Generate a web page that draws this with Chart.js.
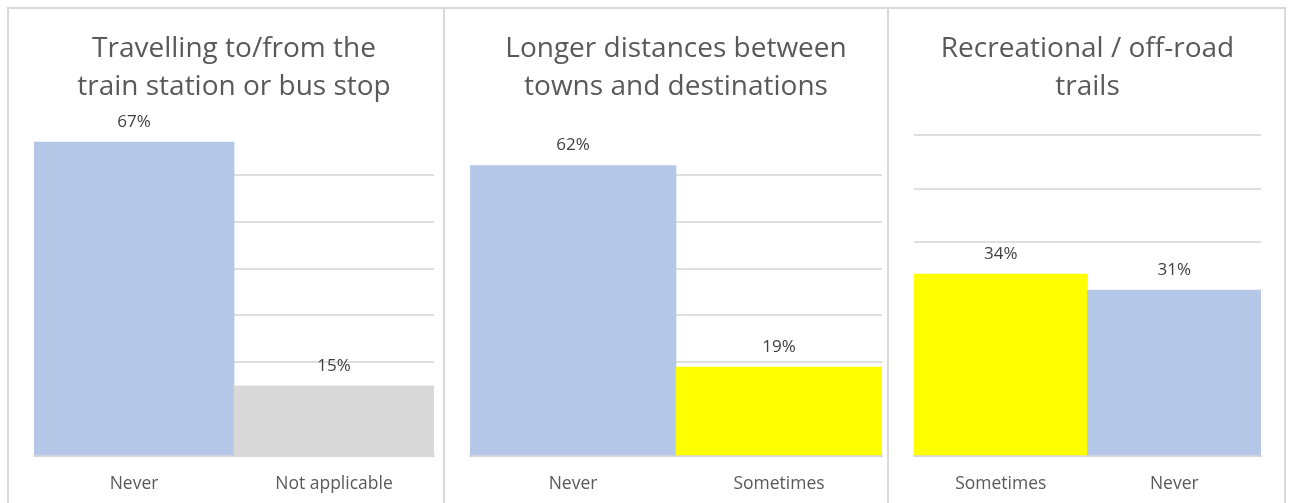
<!DOCTYPE html>
<html>
<head>
<meta charset="utf-8">
<script src="https://cdn.jsdelivr.net/npm/chart.js@4/dist/chart.umd.min.js"></script>
<style>
  body { margin: 0; background: #fff; overflow: hidden; }
  .panel {
    position: absolute;
    top: 7px;
    height: 530px;
    border: 2px solid #d9d9d9;
    background: #fff;
  }
  .panel canvas { display: block; }
</style>
</head>
<body>
<div class="panel" id="p1" style="left:7px;width:434px;"><canvas id="c1" width="434" height="515"></canvas></div>
<div class="panel" id="p2" style="left:443px;width:442px;"><canvas id="c2" width="442" height="515"></canvas></div>
<div class="panel" id="p3" style="left:887px;width:395px;"><canvas id="c3" width="395" height="515"></canvas></div>
<script>
// survey answers, share of respondents (%)
const titles1 = ['Travelling to/from the', 'train station or bus stop'];
const cats1 = ['Never', 'Not applicable'];
const vals1 = [67, 15];

const titles2 = ['Longer distances between', 'towns and destinations'];
const cats2 = ['Never', 'Sometimes'];
const vals2 = [62, 19];

const titles3 = ['Recreational / off-road', 'trails'];
const cats3 = ['Sometimes', 'Never'];
const vals3 = [34, 31];

// axis tops and the highest gridline shown
const axisMax = [70, 70, 60];
const gridTop = 60;

const BLUE = '#b4c7e7', GREY = '#d9d9d9', YELLOW = '#ffff00';
const colors1 = [BLUE, GREY];
const colors2 = [BLUE, YELLOW];
const colors3 = [YELLOW, BLUE];

const FONT = '"Open Sans", Lato, sans-serif';

// value labels above each bar
const valueLabels = {
  id: 'valueLabels',
  afterDatasetsDraw(chart) {
    const ctx = chart.ctx;
    const meta = chart.getDatasetMeta(0);
    const data = chart.data.datasets[0].data;
    ctx.save();
    ctx.font = '17px ' + FONT;
    ctx.fillStyle = '#404040';
    ctx.textAlign = 'center';
    ctx.textBaseline = 'middle';
    meta.data.forEach((bar, i) => {
      ctx.fillText(data[i] + '%', bar.x, bar.y - 20);
    });
    ctx.restore();
  }
};

function drawPanel(id, title, cats, vals, colors, max, pad) {
  return new Chart(document.getElementById(id), {
    type: 'bar',
    data: {
      labels: cats,
      datasets: [{
        data: vals,
        backgroundColor: colors,
        borderWidth: 0,
        barPercentage: 1,
        categoryPercentage: 1
      }]
    },
    options: {
      responsive: false,
      animation: false,
      layout: { padding: pad },
      plugins: {
        legend: { display: false },
        tooltip: { enabled: false },
        title: {
          display: true,
          text: title,
          fullSize: false,
          color: '#595959',
          font: { family: FONT, size: 28, weight: 'normal', lineHeight: 38 / 28 },
          padding: { top: 21, bottom: pad.titleGap }
        }
      },
      scales: {
        x: {
          grid: { display: false, drawTicks: false },
          border: { display: true, color: '#d9d9d9', width: 2 },
          ticks: { color: '#595959', font: { family: FONT, size: 17.5 }, padding: 18 }
        },
        y: {
          min: 0,
          max: max,
          ticks: { display: false, stepSize: 10 },
          border: { display: false },
          grid: {
            drawTicks: false,
            lineWidth: 2,
            color: c => c.tick.value > gridTop ? 'rgba(0,0,0,0)' : '#dedede'
          }
        }
      }
    },
    plugins: [valueLabels]
  });
}

drawPanel('c1', titles1, cats1, vals1, colors1, axisMax[0], { left: 25, right: 9, top: 0, bottom: 11, titleGap: 22 });
drawPanel('c2', titles2, cats2, vals2, colors2, axisMax[1], { left: 25, right: 5, top: 0, bottom: 11, titleGap: 22 });
drawPanel('c3', titles3, cats3, vals3, colors3, axisMax[2], { left: 25, right: 23, top: 0, bottom: 11, titleGap: 29 });
</script>
</body>
</html>
